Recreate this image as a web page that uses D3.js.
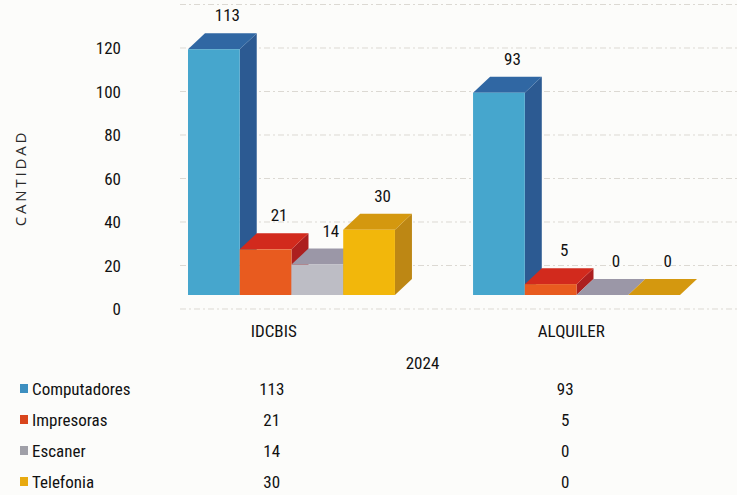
<!DOCTYPE html>
<html>
<head>
<meta charset="utf-8">
<script src="https://cdn.jsdelivr.net/npm/d3@7"></script>
<style>
  html, body { margin: 0; padding: 0; background: #fcfcfa; }
  svg { display: block; }
  .narrow { font-family: "Liberation Sans Narrow", "Arial Narrow", "Roboto Condensed", "Liberation Sans", sans-serif; }
</style>
</head>
<body>
<svg id="chart" width="737" height="495"></svg>
<script>
// ---- data ----
const categories = ["IDCBIS", "ALQUILER"];
const seriesNames = ["Computadores", "Impresoras", "Escaner", "Telefonia"];
const computadores = [113, 93];
const impresoras = [21, 5];
const escaner = [14, 0];
const telefonia = [30, 0];
const yTicks = [0, 20, 40, 60, 80, 100, 120];
const gridValues = [0, 20, 40, 60, 80, 100, 120, 140];
const axisTitle = "CANTIDAD";
const groupTitle = "2024";

const seriesValues = [computadores, impresoras, escaner, telefonia];

// ---- styles ----
const colors = {
  Computadores: { front: "#46a6cd", top: "#3067a3", side: "#2c5a92" },
  Impresoras:   { front: "#e85b1f", top: "#d22a1d", side: "#ac1f1f" },
  Escaner:      { front: "#bdbdc5", top: "#9b97a7", side: "#85828f" },
  Telefonia:    { front: "#f2b70b", top: "#d4980f", side: "#bd8714" }
};
const legendColors = { Computadores: "#3d8fc0", Impresoras: "#d9451c", Escaner: "#a0a0a8", Telefonia: "#e8aa10" };

const svg = d3.select("#chart");
const W = 737, H = 495;

// scales
const y = d3.scaleLinear().domain([0, 140]).range([309, 4.5]);
const baseOffset = 14;       // front floor is above axis zero label
const depthX = 17, depthY = 16;

const x0 = d3.scaleBand().domain(categories).range([188, 680]).paddingInner(0.274).paddingOuter(0);
const x1 = d3.scaleBand().domain(seriesNames).range([0, x0.bandwidth()]);
const colX = d3.scaleBand().domain(categories).range([125, 720]);
const rowY = d3.scalePoint().domain(seriesNames).range([395, 488]);

// gridlines
svg.append("g").selectAll("line").data(gridValues).join("line")
  .attr("x1", 180).attr("x2", W)
  .attr("y1", d => y(d)).attr("y2", d => y(d))
  .attr("stroke", "#dcd9d3").attr("stroke-width", 1)
  .attr("stroke-dasharray", "6,3,2,3");

// y tick labels
svg.append("g").attr("class", "narrow").selectAll("text").data(yTicks).join("text")
  .attr("x", 121).attr("y", d => y(d))
  .attr("text-anchor", "end").attr("dominant-baseline", "central")
  .attr("font-size", 17).attr("fill", "#111")
  .text(d => d);

// axis title
svg.append("text")
  .attr("transform", `translate(26,178) rotate(-90)`)
  .attr("text-anchor", "middle")
  .attr("font-family", "'Open Sans', 'Liberation Sans', Arial, sans-serif")
  .attr("font-size", 15).attr("letter-spacing", 2.8).attr("fill", "#2a2a2a")
  .text(axisTitle);

// bars
const bars = [];
categories.forEach((c, ci) => {
  seriesNames.forEach((s, si) => {
    bars.push({ cat: c, name: s, value: seriesValues[si][ci] });
  });
});

const floor = y(0) - baseOffset;
const gBars = svg.append("g");
bars.forEach(b => {
  const xl = x0(b.cat) + x1(b.name);
  const w = x1.bandwidth();
  const top = y(b.value) - baseOffset;
  const col = colors[b.name];
  const g = gBars.append("g");
  // side face
  g.append("path")
    .attr("d", `M${xl + w},${floor} L${xl + w + depthX},${floor - depthY} L${xl + w + depthX},${top - depthY} L${xl + w},${top} Z`)
    .attr("fill", col.side);
  // top face
  g.append("path")
    .attr("d", `M${xl},${top} L${xl + depthX},${top - depthY} L${xl + w + depthX},${top - depthY} L${xl + w},${top} Z`)
    .attr("fill", col.top);
  // front face
  g.append("rect")
    .attr("x", xl).attr("y", top).attr("width", w).attr("height", Math.max(0, floor - top))
    .attr("fill", col.front);
});

// data labels
svg.append("g").attr("class", "narrow").selectAll("text").data(bars).join("text")
  .attr("x", d => x0(d.cat) + x1(d.name) + x1.bandwidth() / 2 + depthX / 2 + 5)
  .attr("y", d => y(d.value) - baseOffset - depthY - 12)
  .attr("text-anchor", "middle")
  .attr("font-size", 17).attr("fill", "#111")
  .text(d => d.value);

// category labels
svg.append("g").attr("class", "narrow").selectAll("text").data(categories).join("text")
  .attr("x", d => colX(d) + colX.bandwidth() / 2)
  .attr("y", 337)
  .attr("text-anchor", "middle")
  .attr("font-size", 17).attr("fill", "#111")
  .text(d => d);

svg.append("text").attr("class", "narrow")
  .attr("x", (colX(categories[0]) + colX(categories[1]) + colX.bandwidth()) / 2)
  .attr("y", 369)
  .attr("text-anchor", "middle")
  .attr("font-size", 17).attr("fill", "#111")
  .text(groupTitle);

// data table with legend keys
const rows = svg.append("g").attr("class", "narrow");
seriesNames.forEach((s, si) => {
  const yy = rowY(s);
  rows.append("rect")
    .attr("x", 20).attr("y", yy - 11).attr("width", 8).attr("height", 9)
    .attr("fill", legendColors[s]);
  rows.append("text")
    .attr("x", 32).attr("y", yy)
    .attr("font-size", 17).attr("fill", "#111")
    .text(s);
  categories.forEach((c, ci) => {
    rows.append("text")
      .attr("x", colX(c) + colX.bandwidth() / 2 - (ci === 0 ? 2 : 6))
      .attr("y", yy)
      .attr("text-anchor", "middle")
      .attr("font-size", 17).attr("fill", "#111")
      .text(seriesValues[si][ci]);
  });
});
</script>
</body>
</html>
